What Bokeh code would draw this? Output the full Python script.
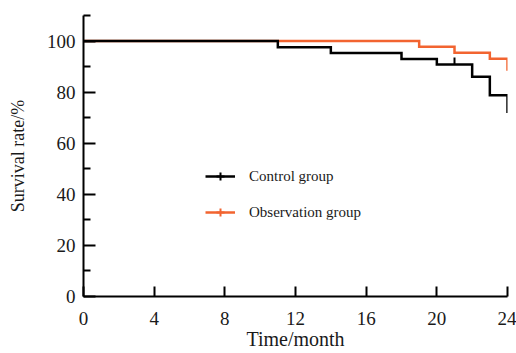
from math import pi
from bokeh.plotting import figure
from bokeh.models import FixedTicker, Legend, LegendItem
from bokeh.embed import file_html
from bokeh.resources import INLINE

# Kaplan-Meier step data (months, survival %)
control_t = [0, 11, 14, 18, 20, 22, 23, 24]
control_s = [100, 97.6, 95.3, 93.0, 90.8, 86.0, 78.8, 71.8]
obs_t = [0, 19, 21, 23, 24]
obs_s = [100, 97.8, 95.4, 93.1, 88.4]
control_censor_t = [21]
control_censor_s = [90.8]
x_ticks = [0, 4, 8, 12, 16, 20, 24]
y_ticks = [0, 20, 40, 60, 80, 100]
y_minor = [10, 30, 50, 70, 90, 110]
x_title = "Time/month"
y_title = "Survival rate/%"

BLACK = "#000000"
ORANGE = "#f26430"
FONT = "Liberation Serif"
TXT = "#1a1a1a"

p = figure(width=516, height=353, x_range=(0, 24), y_range=(0, 110),
           output_backend="svg", toolbar_location=None,
           min_border_left=83, min_border_right=9, min_border_top=15,
           min_border_bottom=57)
p.outline_line_color = None
p.xgrid.visible = False
p.ygrid.visible = False

def steps(t, s):
    xs, ys = [t[0]], [s[0]]
    for i in range(1, len(t)):
        xs += [t[i], t[i]]
        ys += [s[i - 1], s[i]]
    return xs, ys

ox, oy = steps(obs_t, obs_s)
cx, cy = steps(control_t, control_s)
r_obs = p.line(ox, oy, line_color=ORANGE, line_width=2.5, line_join="miter")
r_ctl = p.line(cx, cy, line_color=BLACK, line_width=2.5, line_join="miter")
p.ray(x=control_censor_t, y=control_censor_s, length=7, length_units="screen",
      angle=pi / 2, line_color=BLACK, line_width=2)

# legend-only censor marks (hidden renderers, shown in legend)
lc = p.scatter(x=control_censor_t, y=control_censor_s, marker="cross",
               size=8, line_color=BLACK, line_width=2, visible=False)
lo = p.scatter(x=obs_t[-1:], y=obs_s[-1:], marker="cross",
               size=8, line_color=ORANGE, line_width=2, visible=False)

legend = Legend(items=[LegendItem(label="Control group", renderers=[r_ctl, lc]),
                       LegendItem(label="Observation group", renderers=[r_obs, lo])],
                location=(122, 74), margin=0, padding=0,
                border_line_color=None, background_fill_alpha=0,
                glyph_width=30, glyph_height=20, label_height=20,
                label_standoff=14, spacing=16,
                label_text_font=FONT, label_text_font_size="15px",
                label_text_color=TXT)
p.add_layout(legend, "center")

for ax in (p.xaxis[0], p.yaxis[0]):
    ax.axis_line_width = 2
    ax.axis_line_color = BLACK
    ax.major_tick_line_width = 2
    ax.major_tick_line_color = BLACK
    ax.minor_tick_line_width = 2
    ax.minor_tick_line_color = BLACK
    ax.major_tick_out = 0
    ax.minor_tick_out = 0
    ax.major_label_text_font = FONT
    ax.major_label_text_font_size = "19px"
    ax.major_label_text_color = TXT
    ax.axis_label_text_font = FONT
    ax.axis_label_text_font_style = "normal"
    ax.axis_label_text_color = TXT

p.xaxis.ticker = FixedTicker(ticks=x_ticks)
p.xaxis.major_tick_in = 10
p.xaxis.minor_tick_in = 0
p.xaxis.major_label_standoff = 15
p.xaxis.axis_label = x_title
p.xaxis.axis_label_text_font_size = "20px"
p.xaxis.axis_label_standoff = 0

p.yaxis.ticker = FixedTicker(ticks=y_ticks, minor_ticks=y_minor)
p.yaxis.major_tick_in = 12
p.yaxis.minor_tick_in = 7
p.yaxis.major_label_standoff = 8
p.yaxis.axis_label = y_title
p.yaxis.axis_label_text_font_size = "18px"
p.yaxis.axis_label_standoff = 16

open("out.html", "w").write(file_html(p, INLINE))
